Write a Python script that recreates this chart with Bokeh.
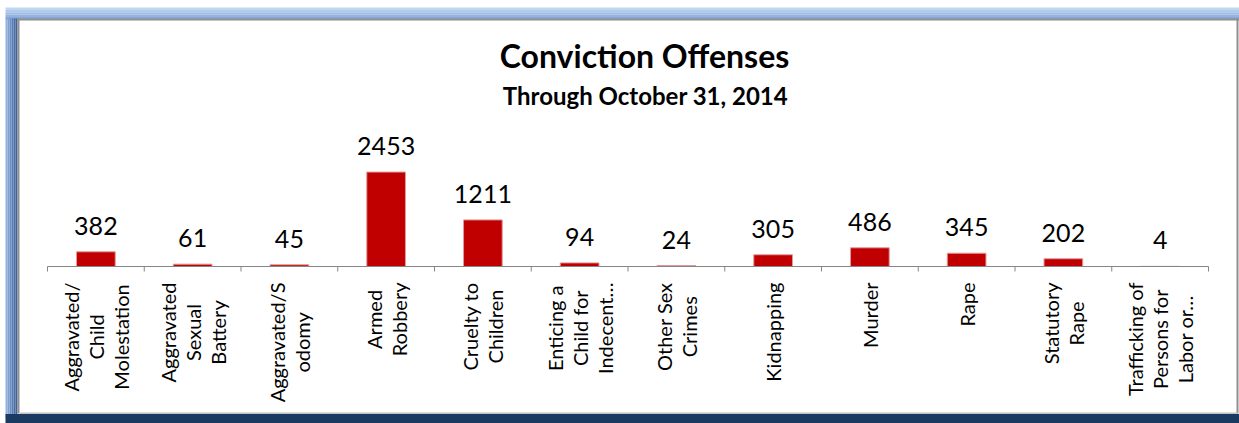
from bokeh.plotting import figure
from bokeh.models import Range1d, BoxAnnotation, ColumnDataSource
from bokeh.core.properties import value
from bokeh.embed import file_html
from bokeh.resources import INLINE
import math

# ---- data ----
categories = [
    "Aggravated/\nChild\nMolestation",
    "Aggravated\nSexual\nBattery",
    "Aggravated/S\nodomy",
    "Armed\nRobbery",
    "Cruelty to\nChildren",
    "Enticing a\nChild for\nIndecent\u2026",
    "Other Sex\nCrimes",
    "Kidnapping",
    "Murder",
    "Rape",
    "Statutory\nRape",
    "Trafficking of\nPersons for\nLabor or\u2026",
]
counts = [382, 61, 45, 2453, 1211, 94, 24, 305, 486, 345, 202, 4]
title_text = "Conviction Offenses"
subtitle_text = "Through October 31, 2014"

# ---- layout geometry (pixels, canvas coordinates) ----
W, H = 1239, 423
axis_left_px = 47          # canvas x where the category axis starts
cat_px = 96.75             # pixels per category
axis_y_px = 266            # canvas y (from top) of the baseline
px_per_unit = 0.0385       # vertical pixels per count

n = len(categories)
x_start = -0.5 - axis_left_px / cat_px
x_end = x_start + W / cat_px
upp = 1.0 / px_per_unit
y_end = axis_y_px * upp
y_start = y_end - H * upp


def cx(px):
    return x_start + px / cat_px


def cy(py):
    return y_end - py * upp


FONT = "Lato"

p = figure(width=W, height=H, x_range=Range1d(x_start, x_end), y_range=Range1d(y_start, y_end),
           min_border=0, toolbar_location=None, output_backend="svg",
           x_axis_location=None, y_axis_location=None)
p.grid.visible = False
p.outline_line_color = None
p.background_fill_color = "white"
p.border_fill_color = "white"


def box(l, r, t, b, c):
    p.add_layout(BoxAnnotation(left=None if l is None else cx(l), right=None if r is None else cx(r),
                               top=None if t is None else cy(t), bottom=None if b is None else cy(b),
                               fill_color=c, fill_alpha=1, line_color=None, line_alpha=0))


# ---- decorative frame ----
top_band = ["#C3D6F0", "#B2CAEB", "#A2BFE6", "#93B3E0", "#86A9DA"]
for i, c in enumerate(top_band):
    box(5, None, 7 + i * 2.4, 7 + (i + 1) * 2.4, c)
left_band = ["#93B0DB", "#7E9FD0", "#6B8FC4", "#5A7FB6", "#4B6FA5", "#42639A"]
for i, c in enumerate(left_band):
    box(5 + i * 2, 5 + (i + 1) * 2, 18, 418, c)
box(5, None, 413.5, None, "#1A3A62")
# inner grey shadow lines
box(17, None, 18, 20, "#8F8F8F")
box(17, 19, 18, 413, "#8F8F8F")
box(1236, 1238, 18, 413, "#8F8F8F")
box(19, 1237, 412, 413.5, "#C0C0C0")

# ---- bars ----
xs = list(range(n))
src = ColumnDataSource(dict(x=xs, top=counts, cat=categories,
                            lbl=[str(v) for v in counts],
                            ly=[v + 17 * upp for v in counts]))
p.vbar(x="x", top="top", bottom=0, width=0.4, source=src, fill_color="#C00000",
       line_color="#E39A9A", line_width=1)

# ---- axis line and ticks ----
edges = [i - 0.5 for i in range(n + 1)]
p.segment(x0=[-0.5], y0=[0], x1=[n - 0.5], y1=[0], line_color="#868686", line_width=1)
p.segment(x0=edges, y0=[0] * len(edges), x1=edges, y1=[-5 * upp] * len(edges),
          line_color="#868686", line_width=1)

# ---- value labels ----
p.text(x="x", y="ly", text="lbl", source=src, anchor="bottom_center", text_align="center",
       text_font=value(FONT), text_font_size="25px", text_color="black")

# ---- category labels ----
p.text(x="x", y=cy(282), text="cat", source=src, angle=math.pi / 2,
       anchor="center_right", text_align="center",
       text_font=value(FONT), text_font_size="20px", text_line_height=1.04,
       text_color="black")

# ---- titles ----
p.text(x=[cx(644)], y=[cy(74)], text=[title_text], anchor="bottom_center", text_align="center",
       text_font=value(FONT), text_font_style="bold", text_font_size="32px", text_color="black")
p.text(x=[cx(645)], y=[cy(109)], text=[subtitle_text], anchor="bottom_center",
       text_align="center", text_font=value(FONT), text_font_style="bold",
       text_font_size="24px", text_color="black")

open("out.html", "w").write(file_html(p, INLINE))
